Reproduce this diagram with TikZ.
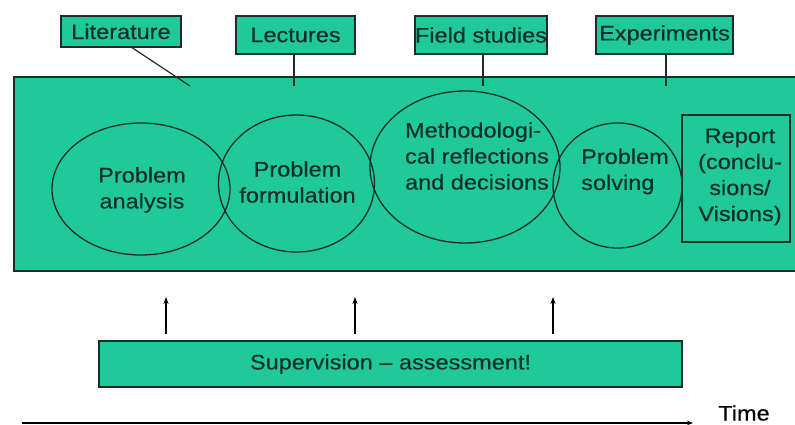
\documentclass[tikz,border=0pt]{standalone}
\usepackage{fontspec}
\setmainfont{Liberation Sans}[FakeStretch=1.12,FakeBold=0.4]
\usetikzlibrary{shapes.geometric,arrows.meta}
\definecolor{mygreen}{HTML}{1FC99A}
\definecolor{txt}{HTML}{0F3029}
\definecolor{edge}{HTML}{1A2E28}
\begin{document}
\begin{tikzpicture}[x=1pt,y=-1pt,
  every node/.style={font=\fontsize{21}{26}\selectfont, text=txt},
  topbox/.style={draw=edge, line width=1.3pt, fill=mygreen, inner sep=0pt, minimum height=38pt},
  blob/.style={draw=edge, line width=1.3pt, ellipse, inner sep=0pt},
  label/.style={align=left, inner sep=0pt},
  conn/.style={draw=edge, line width=1.2pt},
  uparrow/.style={draw=black, line width=1.3pt, -{Stealth[length=7pt,width=5pt]}}]
\useasboundingbox (0,0) rectangle (795,425);
% main band
\fill[mygreen] (14,77) rectangle (820,271);
\draw[edge, line width=1.8pt] (820,77) -- (14,77) -- (14,271) -- (820,271);
% top boxes
\node[topbox, minimum width=120pt, minimum height=31pt] (lit) at (121,31.5) {Literature};
\node[topbox, minimum width=119pt] (lec) at (295.5,35) {Lectures};
\node[topbox, minimum width=132pt] (fld) at (481,35) {Field studies};
\node[topbox, minimum width=137pt] (exp) at (664.5,35) {Experiments};
\coordinate (litend) at (190,86);
\coordinate (lecend) at (294,86);
\coordinate (fldend) at (483,86);
\coordinate (expend) at (666,86);
\draw[conn] (131,47) -- (litend);
\draw[conn] (lec.south -| lecend) -- (lecend);
\draw[conn] (fld.south -| fldend) -- (fldend);
\draw[conn] (exp.south -| expend) -- (expend);
% ellipses
\node[blob, minimum width=178pt, minimum height=132pt] (pa) at (141,189) {};
\node[blob, minimum width=156pt, minimum height=137pt] (pf) at (296.5,183.5) {};
\node[blob, minimum width=190pt, minimum height=152pt] (md) at (465,167) {};
\node[blob, minimum width=129pt, minimum height=125pt] (ps) at (617.5,185.5) {};
\node[label, align=center] (pat) at (142,190) {Problem\\analysis};
\node[label, align=center] (pft) at (297.5,182) {Problem\\formulation};
\node[label] (mdt) at (477,156) {Methodologi-\\cal reflections\\and decisions};
\node[label] (pst) at (625,171.5) {Problem\\solving};
% report
\node[draw=edge, line width=1.3pt, inner sep=0pt, minimum width=108pt, minimum height=127pt, align=center] (rep) at (736,178.5) {};
\node[label, align=center] (rept) at (740,177) {Report\\(conclu-\\sions/\\Visions)};
% supervision
\node[draw=edge, line width=1.5pt, fill=mygreen, inner sep=0pt, minimum width=583pt, minimum height=46pt] (sup) at (390.5,364) {Supervision -- assessment!};
\coordinate (a1s) at (166,334); \coordinate (a1e) at (166,297);
\coordinate (a2s) at (355,334); \coordinate (a2e) at (355,297);
\coordinate (a3s) at (553,334); \coordinate (a3e) at (553,297);
\draw[uparrow] (a1s) -- (a1e);
\draw[uparrow] (a2s) -- (a2e);
\draw[uparrow] (a3s) -- (a3e);
% time axis
\coordinate (t0) at (22,423);
\coordinate (t1) at (693,423);
\draw[line width=1.2pt, -{Stealth[length=6pt,width=4.5pt]}] (t0) -- (t1);
\node[inner sep=0pt, text=black] (time) at (744,413) {Time};
\end{tikzpicture}
\end{document}
